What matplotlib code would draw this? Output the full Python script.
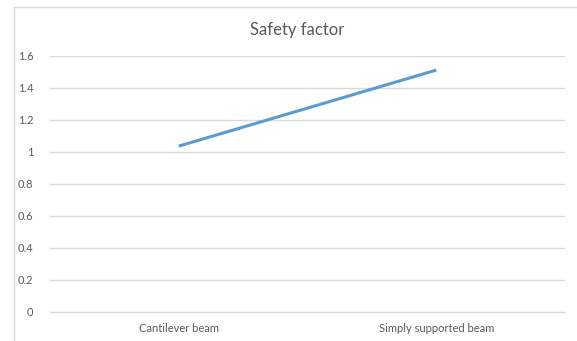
import matplotlib.pyplot as plt
from matplotlib.lines import Line2D

plt.rcParams['font.family'] = ['Lato', 'DejaVu Sans']

categories = ["Cantilever beam", "Simply supported beam"]
safety = [1.035, 1.51]
yticks = [0, 0.2, 0.4, 0.6, 0.8, 1, 1.2, 1.4, 1.6]
ytick_labels = ["0", "0.2", "0.4", "0.6", "0.8", "1", "1.2", "1.4", "1.6"]

W, H = 577, 341
fig = plt.figure(figsize=(W / 100, H / 100), dpi=100)

# light chart-area frame: only top and left edges are inside the canvas
top = 1 - 6.5 / H
left = 13.5 / W
fig.lines.append(Line2D([left, 1.0], [top, top], transform=fig.transFigure,
                        color="#d9d9d9", linewidth=1.0))
fig.lines.append(Line2D([left, left], [0.0, top], transform=fig.transFigure,
                        color="#d9d9d9", linewidth=1.0))

ax = fig.add_axes([50 / W, (H - 311.7) / H, (565 - 50) / W, (311.7 - 55.7) / H])
x = range(len(categories))
ax.plot(x, safety, color="#5b9bd5", linewidth=2.2, solid_capstyle="butt")

ax.set_xlim(-0.5, len(categories) - 0.5)
ax.set_ylim(0, 1.6)
ax.set_yticks(yticks)
ax.set_yticklabels(ytick_labels)
ax.set_xticks(list(x))
ax.set_xticklabels(categories)
ax.tick_params(axis="both", length=0, labelsize=8, labelcolor="#595959")
ax.tick_params(axis="y", pad=12)
ax.tick_params(axis="x", pad=8)
ax.grid(axis="y", color="#d9d9d9", linewidth=1.0)
ax.set_axisbelow(True)
for side in ["top", "right", "left"]:
    ax.spines[side].set_visible(False)
ax.spines["bottom"].set_color("#d9d9d9")

fig.text(297 / W, 1 - 30 / H, "Safety factor", ha="center", va="center",
         fontsize=12, color="#595959")

fig.savefig("out.png", dpi=100)
